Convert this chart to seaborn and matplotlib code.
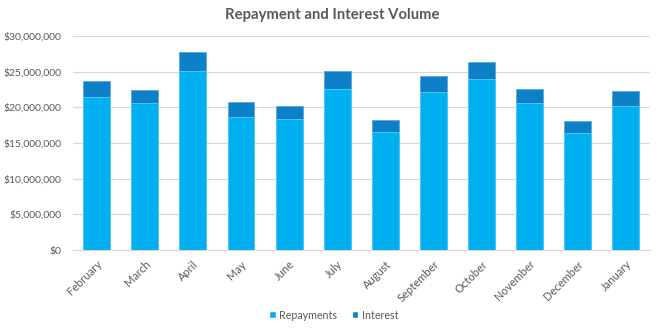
import matplotlib
matplotlib.use("Agg")
import matplotlib.pyplot as plt
from matplotlib.patches import Patch
from matplotlib.ticker import FuncFormatter, MultipleLocator
import seaborn as sns
import pandas as pd

months = ["February", "March", "April", "May", "June", "July", "August",
          "September", "October", "November", "December", "January"]
repayments = [21450000, 20660000, 25100000, 18650000, 18370000, 22580000,
              16600000, 22160000, 24030000, 20620000, 16450000, 20240000]
interest = [2200000, 1740000, 2670000, 2050000, 1830000, 2570000,
            1620000, 2240000, 2270000, 2010000, 1570000, 2110000]

REPAY_COLOR = "#00B0F0"
INTEREST_COLOR = "#0E80C8"
TEXT_COLOR = "#595959"
GRID_COLOR = "#D9D9D9"

df = pd.DataFrame({
    "month": months,
    "Repayments": repayments,
    "Interest": interest,
})
df["Total"] = df["Repayments"] + df["Interest"]

sns.set_theme(style="white")
plt.rcParams["font.family"] = ["Lato", "DejaVu Sans"]

fig = plt.figure(figsize=(6.61, 3.30), dpi=100)
ax = fig.add_axes([0.110, 0.242, 0.873, 0.649])

# Stacked bars: full height in the interest colour, repayments drawn over it
sns.barplot(data=df, x="month", y="Total", color=INTEREST_COLOR,
            width=0.56, saturation=1, ax=ax, edgecolor="#5AA8DC", linewidth=0.6,
            zorder=2)
sns.barplot(data=df, x="month", y="Repayments", color=REPAY_COLOR,
            width=0.56, saturation=1, ax=ax, edgecolor="#5CCBF5", linewidth=0.6,
            zorder=3)

ax.set_ylim(0, 30000000)
ax.set_xlim(-0.5, len(months) - 0.5)
ax.yaxis.set_major_locator(MultipleLocator(5000000))
ax.yaxis.set_major_formatter(FuncFormatter(lambda v, _: f"${v:,.0f}"))
ax.grid(axis="y", color=GRID_COLOR, linewidth=0.9, zorder=0)
ax.set_axisbelow(True)

for side in ["left", "right", "top"]:
    ax.spines[side].set_visible(False)
ax.spines["bottom"].set_color(GRID_COLOR)
ax.spines["bottom"].set_linewidth(0.9)

ax.set_xlabel("")
ax.set_ylabel("")
ax.tick_params(axis="y", length=0, labelsize=7.5, labelcolor=TEXT_COLOR, pad=8)
ax.tick_params(axis="x", length=0, labelsize=8, labelcolor=TEXT_COLOR, pad=6)
plt.setp(ax.get_xticklabels(), rotation=45, ha="right", rotation_mode="anchor")

fig.suptitle("Repayment and Interest Volume", x=0.503, y=0.975,
             fontsize=10.7, fontweight="bold", color=TEXT_COLOR)

handles = [Patch(facecolor=REPAY_COLOR, label="Repayments"),
           Patch(facecolor=INTEREST_COLOR, label="Interest")]
fig.legend(handles=handles, loc="center", bbox_to_anchor=(0.505, 0.045),
           ncol=2, frameon=False, fontsize=7.7, handlelength=0.6,
           handleheight=0.6, handletextpad=0.3, columnspacing=1.4,
           labelcolor=TEXT_COLOR)

fig.savefig("out.png", dpi=100)
